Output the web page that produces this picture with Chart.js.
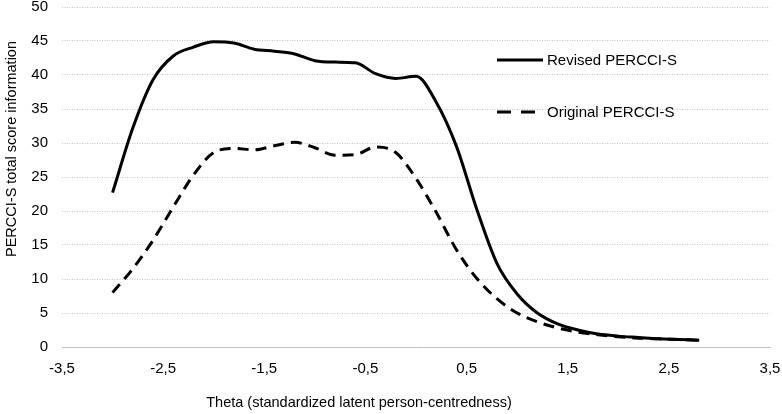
<!DOCTYPE html>
<html>
<head>
<meta charset="utf-8">
<script src="https://cdn.jsdelivr.net/npm/chart.js@4"></script>
<style>
  html, body { margin: 0; padding: 0; background: #fff; }
  #wrap { width: 782px; height: 414px; position: relative; }
</style>
</head>
<body>
<div id="wrap"><canvas id="c" width="782" height="414"></canvas></div>
<script>
// ---- Data ----
const theta = [-3.0, -2.8, -2.6, -2.4, -2.2, -2.0, -1.8, -1.6, -1.4, -1.2, -1.0, -0.8, -0.6, -0.4, -0.2,
               0.0, 0.2, 0.4, 0.6, 0.8, 1.0, 1.2, 1.4, 1.6, 1.8, 2.0, 2.2, 2.4, 2.6, 2.8];
const revised = [22.7, 32.2, 39.3, 42.8, 44.1, 44.9, 44.7, 43.8, 43.5, 43.1, 42.1, 41.9, 41.8, 40.2, 39.5,
                 39.8, 36.0, 29.5, 20.3, 12.3, 7.8, 5.0, 3.4, 2.5, 1.9, 1.6, 1.4, 1.2, 1.1, 1.0];
const original = [8.0, 11.5, 15.7, 20.6, 25.3, 28.6, 29.2, 29.0, 29.6, 30.1, 29.3, 28.2, 28.3, 29.4, 28.6,
                  24.8, 19.8, 14.3, 10.1, 7.1, 5.0, 3.7, 2.8, 2.2, 1.8, 1.5, 1.3, 1.2, 1.1, 1.0];
const seriesNames = ['Revised PERCCI-S', 'Original PERCCI-S'];
const xTickLabels = ['-3,5', '-2,5', '-1,5', '-0,5', '0,5', '1,5', '2,5', '3,5'];
const yTicks = [0, 5, 10, 15, 20, 25, 30, 35, 40, 45, 50];
const xTitle = 'Theta (standardized latent person-centredness)';
const yTitle = 'PERCCI-S total score information';

const FONT = '"Liberation Sans", Arial, sans-serif';

const toPts = (ys) => theta.map((t, i) => ({ x: t, y: ys[i] }));

const extras = {
  id: 'extras',
  afterDraw(chart) {
    const ctx = chart.ctx;
    ctx.save();
    ctx.fillStyle = '#000';
    ctx.font = '14.5px ' + FONT;
    ctx.textBaseline = 'middle';
    // x-axis title
    ctx.textAlign = 'center';
    ctx.fillText(xTitle, 359, 403);
    // y-axis title
    ctx.save();
    ctx.translate(12, 149);
    ctx.rotate(-Math.PI / 2);
    ctx.fillText(yTitle, 0, 0);
    ctx.restore();
    // legend
    const items = chart.data.datasets;
    const lx = 497, lw = 46;
    const ys = [60, 112];
    ctx.font = '15px ' + FONT;
    ctx.textAlign = 'left';
    items.forEach((ds, i) => {
      const y = ys[i];
      ctx.save();
      ctx.strokeStyle = ds.borderColor;
      ctx.lineWidth = ds.borderWidth;
      ctx.setLineDash(ds.borderDash && ds.borderDash.length ? [14, 10] : []);
      ctx.beginPath();
      ctx.moveTo(lx, y);
      ctx.lineTo(lx + lw, y);
      ctx.stroke();
      ctx.restore();
      ctx.fillText(ds.label, lx + lw + 4, y + 1);
    });
    ctx.restore();
  }
};

new Chart(document.getElementById('c'), {
  type: 'line',
  data: {
    datasets: [
      {
        label: seriesNames[0],
        data: toPts(revised),
        borderColor: '#000',
        borderWidth: 3,
        pointRadius: 0,
        cubicInterpolationMode: 'monotone',
        fill: false
      },
      {
        label: seriesNames[1],
        data: toPts(original),
        borderColor: '#000',
        borderWidth: 3,
        borderDash: [11, 7],
        pointRadius: 0,
        cubicInterpolationMode: 'monotone',
        fill: false
      }
    ]
  },
  options: {
    responsive: false,
    animation: false,
    layout: { padding: { left: 0, right: 12, top: 7, bottom: 0 } },
    plugins: { legend: { display: false }, tooltip: { enabled: false } },
    scales: {
      x: {
        type: 'linear',
        min: -3.5,
        max: 3.5,
        afterFit: (s) => { s.height = 67; s.paddingLeft = 0; s.paddingRight = 0; },
        afterBuildTicks: (s) => { s.ticks = xTickLabels.map((l, i) => ({ value: -3.5 + i })); },
        ticks: {
          padding: 13,
          color: '#000',
          font: { family: FONT, size: 15 },
          maxRotation: 0,
          autoSkip: false,
          callback: (v, i) => xTickLabels[i]
        },
        grid: { display: false, drawTicks: false },
        border: { display: true, color: '#c0c0c0', width: 1 }
      },
      y: {
        min: 0,
        max: 50,
        afterFit: (s) => { s.width = 62; s.paddingTop = 0; s.paddingBottom = 0; },
        afterBuildTicks: (s) => { s.ticks = yTicks.map(v => ({ value: v })); },
        ticks: {
          padding: 14,
          color: '#000',
          font: { family: FONT, size: 15 },
          callback: (v) => String(v)
        },
        grid: { color: '#c4c4c4', lineWidth: 1, drawTicks: false, borderDash: [1, 1.5] },
        border: { display: false, dash: [1, 1.5] }
      }
    }
  },
  plugins: [extras]
});
</script>
</body>
</html>
